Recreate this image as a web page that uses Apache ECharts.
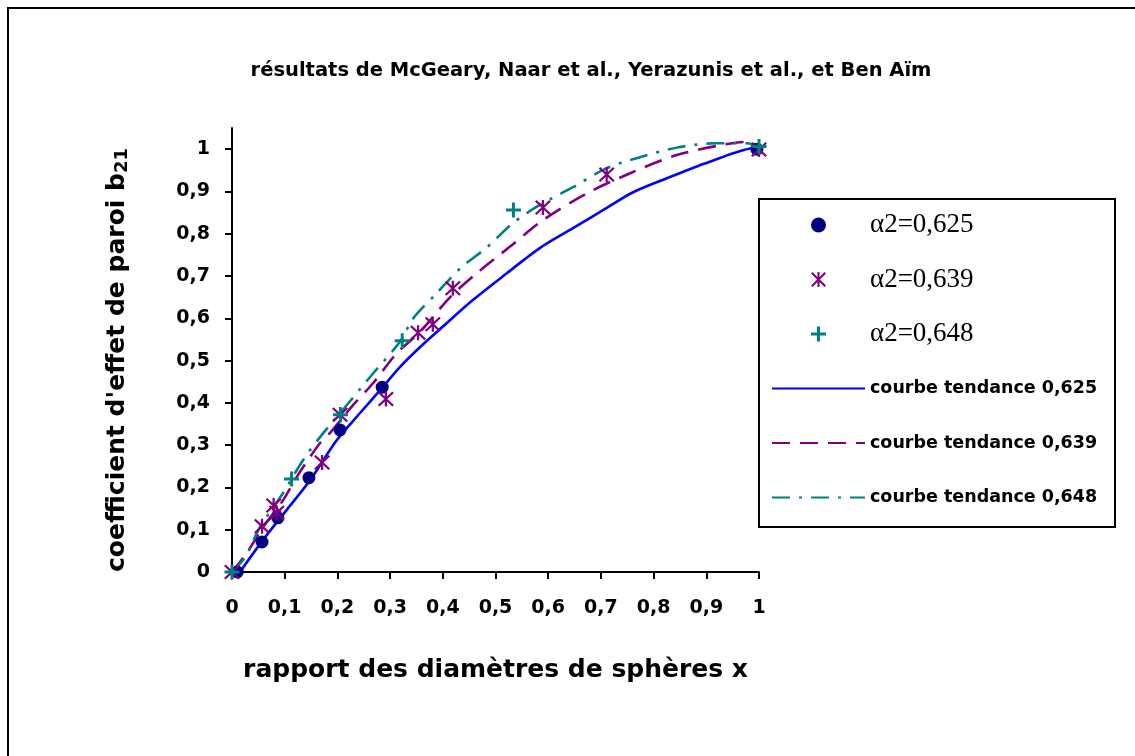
<!DOCTYPE html>
<html>
<head>
<meta charset="utf-8">
<script src="https://cdn.jsdelivr.net/npm/echarts@6/dist/echarts.min.js"></script>
<style>html,body{margin:0;padding:0;background:#fff}#c{width:1135px;height:756px}</style>
</head>
<body>
<div id="c"></div>
<script>
// ---- data ----
const titleText = "résultats de McGeary, Naar et al., Yerazunis et al., et Ben Aïm";
const xAxisTitle = "rapport des diamètres de sphères x";
const yAxisTitleMain = "coefficient d'effet de paroi b";
const yAxisTitleSub = "21";

const xTicks = [0, 0.1, 0.2, 0.3, 0.4, 0.5, 0.6, 0.7, 0.8, 0.9, 1];
const yTicks = [0, 0.1, 0.2, 0.3, 0.4, 0.5, 0.6, 0.7, 0.8, 0.9, 1];

const names = ["α2=0,625", "α2=0,639", "α2=0,648",
               "courbe tendance 0,625", "courbe tendance 0,639", "courbe tendance 0,648"];

// measured points
const x625 = [0.01, 0.057, 0.087, 0.146, 0.205, 0.285, 0.996];
const y625 = [0.0, 0.071, 0.128, 0.223, 0.336, 0.437, 1.0];

const x639 = [0.0, 0.057, 0.079, 0.085, 0.171, 0.205, 0.292, 0.353, 0.381, 0.419, 0.59, 0.711, 1.0];
const y639 = [0.0, 0.108, 0.157, 0.14, 0.259, 0.372, 0.409, 0.566, 0.586, 0.671, 0.862, 0.94, 0.999];

const x648 = [0.0, 0.113, 0.206, 0.323, 0.534, 1.0];
const y648 = [0.0, 0.22, 0.372, 0.547, 0.856, 1.006];

// trend curves
const xT625 = [0.015, 0.059, 0.104, 0.148, 0.199, 0.243, 0.281, 0.319, 0.357, 0.398, 0.457, 0.522, 0.584, 0.647, 0.711, 0.761, 0.825, 0.888, 0.926, 0.951, 0.989, 1.0];
const yT625 = [0.0, 0.076, 0.147, 0.217, 0.312, 0.376, 0.43, 0.485, 0.532, 0.578, 0.643, 0.707, 0.766, 0.813, 0.861, 0.898, 0.931, 0.962, 0.979, 0.99, 1.002, 1.0];

const xT639 = [0.0, 0.028, 0.059, 0.097, 0.123, 0.167, 0.186, 0.23, 0.268, 0.313, 0.357, 0.414, 0.465, 0.527, 0.59, 0.674, 0.761, 0.844, 0.926, 0.977, 1.0];
const yT639 = [0.0, 0.045, 0.106, 0.17, 0.225, 0.305, 0.329, 0.395, 0.447, 0.518, 0.568, 0.65, 0.707, 0.769, 0.832, 0.896, 0.946, 0.986, 1.009, 1.017, 1.005];

const xT648 = [0.0, 0.025, 0.053, 0.097, 0.135, 0.167, 0.218, 0.268, 0.319, 0.344, 0.389, 0.433, 0.484, 0.533, 0.584, 0.647, 0.711, 0.774, 0.85, 0.92, 0.977, 1.0];
const yT648 = [0.0, 0.035, 0.106, 0.187, 0.265, 0.319, 0.395, 0.47, 0.545, 0.6, 0.66, 0.718, 0.768, 0.825, 0.868, 0.91, 0.955, 0.981, 1.005, 1.014, 1.014, 1.005];

// ---- build ----
const pairs = (xs, ys) => xs.map((v, i) => [v, ys[i]]);
const comma = v => (Math.round(v * 10) / 10).toString().replace('.', ',');

const PLUS = 'path://M4,0L6,0L6,4L10,4L10,6L6,6L6,10L4,10L4,6L0,6L0,4L4,4Z';
const STAR = 'path://M0,1L1,0L10,9L9,10ZM9,0L10,1L1,10L0,9ZM4.3,0L5.7,0L5.7,10L4.3,10Z';

const mainFont = 'DejaVu Sans';
const legendLineText = {fontFamily: mainFont, fontWeight: 'bold', fontSize: 17.5, color: '#000', lineHeight: 28};
const legendSerifText = {fontFamily: 'Liberation Serif', fontSize: 27, color: '#000', lineHeight: 28};
const hiddenSymbol = {color: 'rgba(0,0,0,0)', borderWidth: 0};

const chart = echarts.init(document.getElementById('c'), null, {renderer: 'canvas'});
chart.setOption({
  backgroundColor: '#fff',
  animation: false,
  title: {
    text: titleText,
    left: 586,
    textAlign: 'center',
    top: 56,
    textStyle: {fontFamily: mainFont, fontWeight: 'bold', fontSize: 19.5, color: '#000'}
  },
  graphic: [
    {type: 'rect', shape: {x: 8, y: 8, width: 1140, height: 760}, style: {fill: 'none', stroke: '#000', lineWidth: 2}, z: -1},
    {type: 'rect', shape: {x: 759, y: 199, width: 356, height: 328}, style: {fill: '#fff', stroke: '#000', lineWidth: 2}, z: 1}
  ],
  legend: {
    orient: 'vertical',
    left: 757,
    top: 199,
    padding: [12, 10, 10, 14],
    itemWidth: 93,
    itemHeight: 15,
    itemGap: 26.5,
    z: 5,
    selectedMode: false,
    data: [
      {name: names[0], textStyle: legendSerifText},
      {name: names[1], textStyle: legendSerifText},
      {name: names[2], textStyle: legendSerifText},
      {name: names[3], textStyle: legendLineText, itemStyle: hiddenSymbol},
      {name: names[4], textStyle: legendLineText, itemStyle: hiddenSymbol},
      {name: names[5], textStyle: legendLineText, itemStyle: hiddenSymbol}
    ]
  },
  grid: {left: 232, right: 376, top: 128, bottom: 184, containLabel: false},
  xAxis: {
    type: 'value', min: 0, max: 1, interval: 0.1,
    name: xAxisTitle, nameLocation: 'middle', nameGap: 86,
    nameTextStyle: {fontFamily: mainFont, fontWeight: 'bold', fontSize: 25, color: '#000'},
    axisLine: {onZero: false, lineStyle: {color: '#000', width: 2}},
    axisTick: {show: true, inside: false, length: 7, lineStyle: {color: '#000', width: 2}, customValues: xTicks},
    axisLabel: {margin: 27, formatter: comma, customValues: xTicks,
      fontFamily: mainFont, fontWeight: 'bold', fontSize: 19, color: '#000'},
    splitLine: {show: false}
  },
  yAxis: {
    type: 'value', min: 0, max: 1.05, interval: 0.1,
    name: '{a|' + yAxisTitleMain + '}{s|' + yAxisTitleSub + '}',
    nameLocation: 'middle', nameGap: 101, nameRotate: 90,
    nameTextStyle: {padding: [0, 20, 0, 0], rich: {
      a: {fontFamily: mainFont, fontWeight: 'bold', fontSize: 25, color: '#000'},
      s: {fontFamily: mainFont, fontWeight: 'bold', fontSize: 18, color: '#000', verticalAlign: 'bottom', padding: [9, 0, 0, 0]}
    }},
    axisLine: {onZero: false, lineStyle: {color: '#000', width: 2}},
    axisTick: {show: true, inside: false, length: 7, lineStyle: {color: '#000', width: 2}, customValues: yTicks},
    axisLabel: {margin: 22, formatter: comma, customValues: yTicks,
      fontFamily: mainFont, fontWeight: 'bold', fontSize: 19, color: '#000'},
    splitLine: {show: false}
  },
  series: [
    {name: names[0], type: 'scatter', data: pairs(x625, y625), symbol: 'circle', symbolSize: 13,
      itemStyle: {color: '#000080', opacity: 1}, z: 3},
    {name: names[1], type: 'scatter', data: pairs(x639, y639), symbol: STAR, symbolSize: [16, 15],
      itemStyle: {color: '#800080', opacity: 1}, z: 3},
    {name: names[2], type: 'scatter', data: pairs(x648, y648), symbol: PLUS, symbolSize: 15,
      itemStyle: {color: '#008080', opacity: 1}, z: 3},
    {name: names[3], type: 'line', data: pairs(xT625, yT625), showSymbol: false, symbol: 'none', smooth: 0.3,
      itemStyle: {color: '#0000FF'}, lineStyle: {color: '#0000FF', width: 2.6, type: 'solid'}, z: 2},
    {name: names[4], type: 'line', data: pairs(xT639, yT639), showSymbol: false, symbol: 'none', smooth: 0.3,
      itemStyle: {color: '#800080'}, lineStyle: {color: '#800080', width: 2.6, type: [18, 10]}, z: 2},
    {name: names[5], type: 'line', data: pairs(xT648, yT648), showSymbol: false, symbol: 'none', smooth: 0.3,
      itemStyle: {color: '#008080'}, lineStyle: {color: '#008080', width: 2.6, type: [18, 9, 3, 9]}, z: 2}
  ]
});
</script>
</body>
</html>
